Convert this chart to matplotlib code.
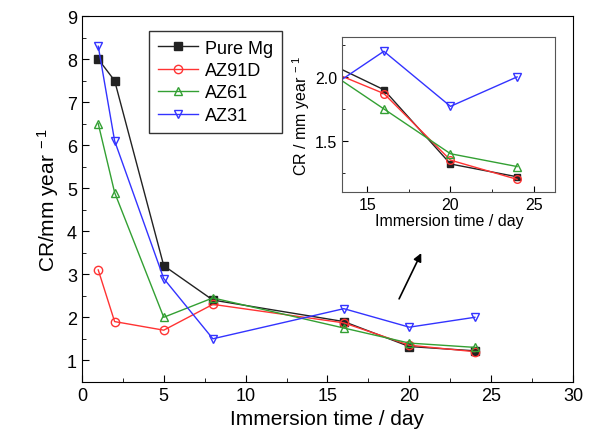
import matplotlib
matplotlib.use("Agg")
import matplotlib.pyplot as plt
from matplotlib.ticker import MultipleLocator

days = [1, 2, 5, 8, 16, 20, 24]
pure_mg = [8.0, 7.5, 3.2, 2.4, 1.9, 1.32, 1.22]
az91d = [3.1, 1.9, 1.7, 2.3, 1.87, 1.35, 1.2]
az61 = [6.5, 4.9, 2.0, 2.45, 1.75, 1.4, 1.3]
az31 = [8.3, 6.1, 2.9, 1.5, 2.2, 1.77, 2.0]

SERIES = [("Pure Mg", pure_mg, "#222222", "s", "black"),
          ("AZ91D", az91d, "#ff3333", "o", "none"),
          ("AZ61", az61, "#33a033", "^", "none"),
          ("AZ31", az31, "#3333ff", "v", "none")]

plt.rcParams["font.family"] = ["Liberation Sans", "DejaVu Sans"]
plt.rcParams["mathtext.fontset"] = "custom"
plt.rcParams["mathtext.rm"] = "Liberation Sans"
plt.rcParams["mathtext.it"] = "Liberation Sans"


def draw(ax, ms):
    for name, vals, color, mk, fc in SERIES:
        size = ms * 0.85 if mk == "s" else ms
        ax.plot(days, vals, color=color, lw=1.0, marker=mk, ms=size,
                mfc=color if fc != "none" else "none", mec=color, mew=1.0, label=name)


fig = plt.figure(figsize=(5.89, 4.39), dpi=100)
ax = fig.add_axes([0.139, 0.128, 0.834, 0.833])
draw(ax, 6)
ax.set_xlim(0, 30)
ax.set_ylim(0.5, 9)
ax.xaxis.set_major_locator(MultipleLocator(5))
ax.xaxis.set_minor_locator(MultipleLocator(2.5))
ax.yaxis.set_major_locator(MultipleLocator(1))
ax.yaxis.set_minor_locator(MultipleLocator(0.5))
ax.tick_params(which="both", direction="in", labelsize=13)
ax.tick_params(which="major", length=5)
ax.tick_params(which="minor", length=3)
ax.set_xlabel("Immersion time / day", fontsize=15)
ax.set_ylabel("CR/mm year$^{\\ -1}$", fontsize=15)
ax.legend(loc="upper left", bbox_to_anchor=(0.118, 0.985), fontsize=13,
          fancybox=False, edgecolor="#333333", framealpha=1, handlelength=2.2,
          borderpad=0.5, labelspacing=0.3, handletextpad=0.4)
ax.annotate("", xy=(20.8, 3.55), xytext=(19.3, 2.37),
            arrowprops=dict(arrowstyle="-|>", color="black", lw=1.2, mutation_scale=12))

ins = fig.add_axes([0.581, 0.560, 0.362, 0.353])
draw(ins, 5.5)
ins.set_xlim(13.5, 26.3)
ins.set_ylim(1.10, 2.31)
ins.xaxis.set_major_locator(MultipleLocator(5))
ins.xaxis.set_minor_locator(MultipleLocator(2.5))
ins.yaxis.set_major_locator(MultipleLocator(0.5))
ins.yaxis.set_minor_locator(MultipleLocator(0.25))
ins.tick_params(which="both", direction="in", labelsize=11.5)
ins.tick_params(which="major", length=4)
ins.tick_params(which="minor", length=2)
ins.set_xlabel("Immersion time / day", fontsize=11.5, labelpad=1)
ins.set_ylabel("CR / mm year$^{\\ -1}$", fontsize=11.5, labelpad=2)
for s in ins.spines.values():
    s.set_color("#555555")

fig.savefig("out.png", dpi=100)
